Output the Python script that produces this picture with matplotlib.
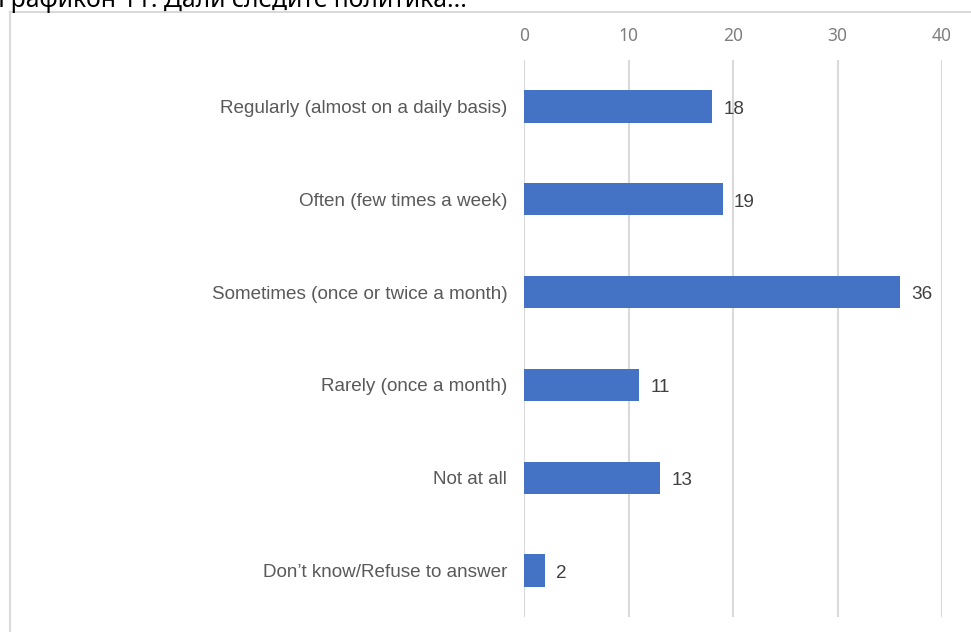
import matplotlib
matplotlib.use('Agg')
import matplotlib.pyplot as plt
from matplotlib.patches import Rectangle

categories = ['Regularly (almost on a daily basis)', 'Often (few times a week)',
              'Sometimes (once or twice a month)', 'Rarely (once a month)',
              'Not at all', "Don\u2019t know/Refuse to answer"]
values = [18, 19, 36, 11, 13, 2]
ticks = [0, 10, 20, 30, 40]
title = 'Графикон 11: Дали следите политика...'

fig = plt.figure(figsize=(9.71, 6.32), dpi=100)
W, H = 971, 632

# outer frame of the chart area
fig.patches.append(Rectangle((10 / W, -0.05), 1.1, 1 - 12 / H + 0.05,
                             transform=fig.transFigure, fill=False,
                             edgecolor='#d9d9d9', linewidth=1.5))
fig.text(-2 / W, 1 - 7 / H, title, fontsize=17.8, family='Noto Sans',
         color='black', va='baseline', ha='left')

ax = fig.add_axes([524 / W, 15 / H, (942 - 524) / W, (617 - 60) / H])
y = list(range(len(categories)))
ax.barh(y, values, height=0.35, color='#4472c4')
ax.set_xlim(0, 40)
ax.set_ylim(len(categories) - 0.5, -0.5)
ax.set_xticks(ticks)
ax.xaxis.tick_top()
ax.tick_params(axis='x', length=0, pad=11, labelsize=12.5, labelcolor='#7f7f7f')
for lab in ax.get_xticklabels():
    lab.set_family('Noto Sans')
ax.set_yticks(y)
ax.set_yticklabels(categories, fontsize=13.6, family='Liberation Sans', color='#595959')
ax.tick_params(axis='y', length=0, pad=12)
ax.grid(axis='x', color='#d9d9d9', linewidth=1.5)
ax.set_axisbelow(True)
for s in ax.spines.values():
    s.set_visible(False)

for i, v in enumerate(values):
    ax.text(v + 1.1, i + 0.03, str(v), va='center', ha='left', fontsize=13.6,
            family='Liberation Sans', color='#404040')

fig.savefig('out.png', dpi=100)
